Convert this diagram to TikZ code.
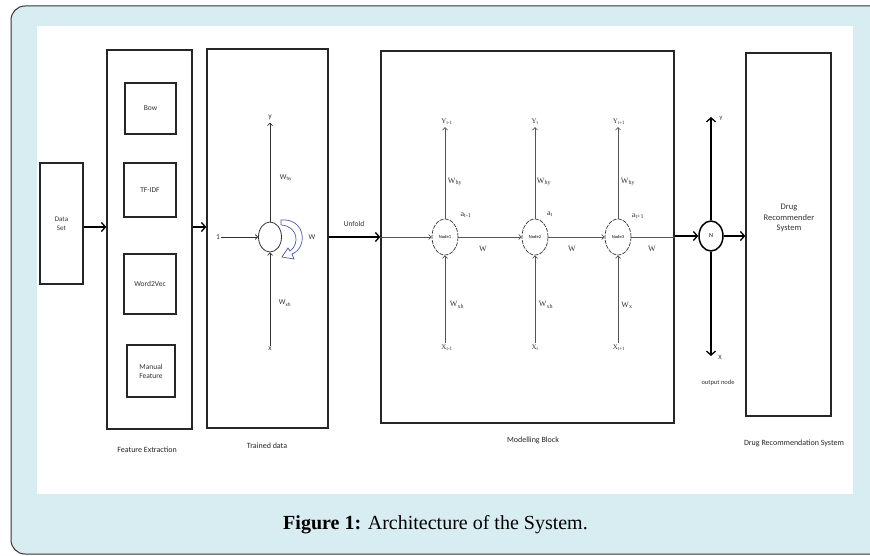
\documentclass[tikz,border=0pt]{standalone}
\usepackage{fontspec}
\setmainfont{Carlito}
\newfontfamily\capfont{Liberation Serif}
\newfontfamily\serfont{Liberation Serif}
\usetikzlibrary{arrows.meta,shapes.geometric}
\definecolor{bgblue}{HTML}{D8EDF2}
\definecolor{loopblue}{HTML}{4C5EA8}
\definecolor{linegray}{HTML}{555555}
\begin{document}
\begin{tikzpicture}[x=1pt,y=-1pt,
  box/.style={draw=black!85, line width=1.4pt, inner sep=0pt, align=center},
  smallbox/.style={draw=black!85, line width=1.2pt, inner sep=0pt, align=center, font=\fontsize{7.5}{9}\selectfont, text=black!80},
  bigarrow/.style={draw=black, line width=1.5pt, -{Straight Barb[length=4pt,width=9pt,line width=1.3pt]}},
  smallarrow/.style={draw=linegray, line width=0.7pt, -{Straight Barb[length=2.5pt,width=5pt,line width=0.7pt]}},
  thinline/.style={draw=linegray, line width=0.7pt},
  lab/.style={inner sep=1pt, font=\fontsize{7.5}{8}\selectfont, text=black!80},
  slab/.style={inner sep=1pt, font=\serfont\fontsize{8}{9}\selectfont, text=black!80},
  xylab/.style={inner sep=2pt, font=\serfont\fontsize{7}{8}\selectfont, text=black!80},
  blocklab/.style={inner sep=1pt, font=\fontsize{8}{9}\selectfont, text=black!85},
  rnnnode/.style={draw=black!80, line width=0.7pt, dash pattern=on 4pt off 1.2pt, ellipse, minimum width=26pt, minimum height=36pt, inner sep=0pt, font=\fontsize{4.5}{5}\selectfont}
]
\useasboundingbox (0,0) rectangle (870,556);
% frame
\draw[rounded corners=14pt, fill=bgblue, draw=black!80, line width=1pt] (11,6) rectangle (900,554);
\fill[white] (37,26) rectangle (853,494);

% boxes
\node[box, minimum width=43pt, minimum height=121pt, font=\fontsize{7}{9}\selectfont, text=black!80] (data) at (61.5,223.5) {Data\\Set};
\node[box, minimum width=85pt, minimum height=379pt] (fe) at (149.5,239.5) {};
\node[smallbox, minimum width=51pt, minimum height=51pt] (bow) at (150.5,108.5) {Bow};
\node[smallbox, minimum width=52pt, minimum height=54pt] (tfidf) at (150,190) {TF-IDF};
\node[smallbox, minimum width=52pt, minimum height=60pt] (w2v) at (150,284) {Word2Vec};
\node[smallbox, minimum width=48pt, minimum height=52pt] (manual) at (151,371) {Manual\\Feature};
\node[box, minimum width=121pt, minimum height=379pt] (td) at (267.5,238.5) {};
\node[box, minimum width=293pt, minimum height=372pt] (mb) at (527.5,237) {};
\node[box, minimum width=85pt, minimum height=363pt] (drug) at (788.5,234.5) {};
\node[inner sep=0pt, align=center, font=\fontsize{8.5}{10.5}\selectfont, text=black!80] (drugtxt) at (789,218) {Drug\\Recommender\\System};

% block labels
\node[blocklab] (felab) at (147,450) {Feature Extraction};
\node[blocklab] (tdlab) at (267,446) {Trained data};
\node[blocklab] (mblab) at (533,440) {Modelling Block};
\node[blocklab] (druglab) at (794,443) {Drug Recommendation System};

% main arrows
\coordinate (r227) at (0,227);
\draw[bigarrow] (data.east |- r227) -- (fe.west |- r227);
\draw[bigarrow] (fe.east |- r227) -- (td.west |- r227);

% trained data
\node[draw=black!80, line width=0.8pt, ellipse, minimum width=23pt, minimum height=30pt, inner sep=0pt] (rnn) at (270,237) {};
\node[lab, inner sep=3pt] (ty) at (270,117) {y};
\node[lab] (tx) at (270,349) {x};
\node[lab] (tin) at (218,237) {1};
\draw[smallarrow, draw=black!80] (rnn.north) -- (ty.south);
\draw[smallarrow, draw=black!80] (tx.north) -- (rnn.south);
\draw[smallarrow, draw=black!80] (tin.east) -- (rnn.west);
\node[lab] (twhy) at (286,178) {W\textsubscript{hy}};
\node[lab] (twxh) at (285,303) {W\textsubscript{xh}};
\node[lab] (tw) at (312,237) {W};
\draw[loopblue, line width=0.7pt, fill=white]
  (281,220) .. controls (306,218) and (308,248) .. (292,254) -- (294,259) -- (282,257)
  -- (288,248) -- (290,251) .. controls (300,244) and (298,226) .. (281,225) -- cycle;

% unfold
\draw[bigarrow] (td.east |- rnn) -- (mb.west |- rnn);
\node[lab] (unfold) at (354,224) {Unfold};

% modelling block
\node[rnnnode] (n1) at (445,237) {Node1};
\node[rnnnode] (n2) at (535,237) {Node2};
\node[rnnnode] (n3) at (618,237) {Node3};
\draw[smallarrow] (mb.west |- n1) -- (n1.west);
\draw[smallarrow] (n1.east) -- (n2.west);
\draw[smallarrow] (n2.east) -- (n3.west);
\draw[thinline] (n3.east) -- (mb.east |- n3);
\node[slab] (w1) at (483,249) {W};
\node[slab] (w2) at (572,249) {W};
\node[slab] (w3) at (652,249) {W};
\node[slab] (a1) at (466,215) {a\textsubscript{t-1}};
\node[slab] (a2) at (550,214) {a\textsubscript{t}};
\node[slab] (a3) at (638,216) {a\textsubscript{t+1}};
\node[xylab] (y1) at (447,122) {Y\textsubscript{t-1}};
\node[xylab] (y2) at (535,122) {Y\textsubscript{t}};
\node[xylab] (y3) at (619,122) {Y\textsubscript{t+1}};
\draw[smallarrow] (n1.north) -- (n1.north |- y1.south);
\draw[smallarrow] (n2.north) -- (n2.north |- y2.south);
\draw[smallarrow] (n3.north) -- (n3.north |- y3.south);
\node[xylab] (x1) at (447,348) {X\textsubscript{t-1}};
\node[xylab] (x2) at (535,348) {X\textsubscript{t}};
\node[xylab] (x3) at (619,348) {X\textsubscript{t+1}};
\draw[smallarrow] (n1.south |- x1.north) -- (n1.south);
\draw[smallarrow] (n2.south |- x2.north) -- (n2.south);
\draw[smallarrow] (n3.south |- x3.north) -- (n3.south);
\node[slab] (wh1) at (455,182) {W\textsubscript{hy}};
\node[slab] (wh2) at (544,182) {W\textsubscript{hy}};
\node[slab] (wh3) at (628,182) {W\textsubscript{hy}};
\node[slab] (wx1) at (457,305) {W\textsubscript{xh}};
\node[slab] (wx2) at (546,305) {W\textsubscript{xh}};
\node[slab] (wx3) at (627,305) {W\textsubscript{x}};

% output node
\node[draw=black, line width=1.5pt, ellipse, minimum width=24pt, minimum height=30pt, inner sep=0pt, font=\fontsize{6}{7}\selectfont] (N) at (711,236) {N};
\draw[bigarrow] (mb.east |- N) -- (N.west);
\draw[bigarrow] (N.east) -- (drug.west |- N);
\coordinate (ytip) at (711,117);
\coordinate (xtip) at (711,356);
\draw[bigarrow] (N.north) -- (ytip);
\draw[bigarrow] (N.south) -- (xtip);
\node[lab, font=\fontsize{6.5}{7}\selectfont] (ylab) at (721,118) {Y};
\node[lab, font=\fontsize{6.5}{7}\selectfont] (xlab) at (720,357) {X};
\node[lab, font=\fontsize{6.5}{7}\selectfont] (outlab) at (718,383) {output node};

% caption
\node[inner sep=0pt, font=\capfont\fontsize{20}{23}\selectfont] (cap) at (435.5,525) {\textbf{Figure 1:} Architecture of the System.};
\end{tikzpicture}
\end{document}
